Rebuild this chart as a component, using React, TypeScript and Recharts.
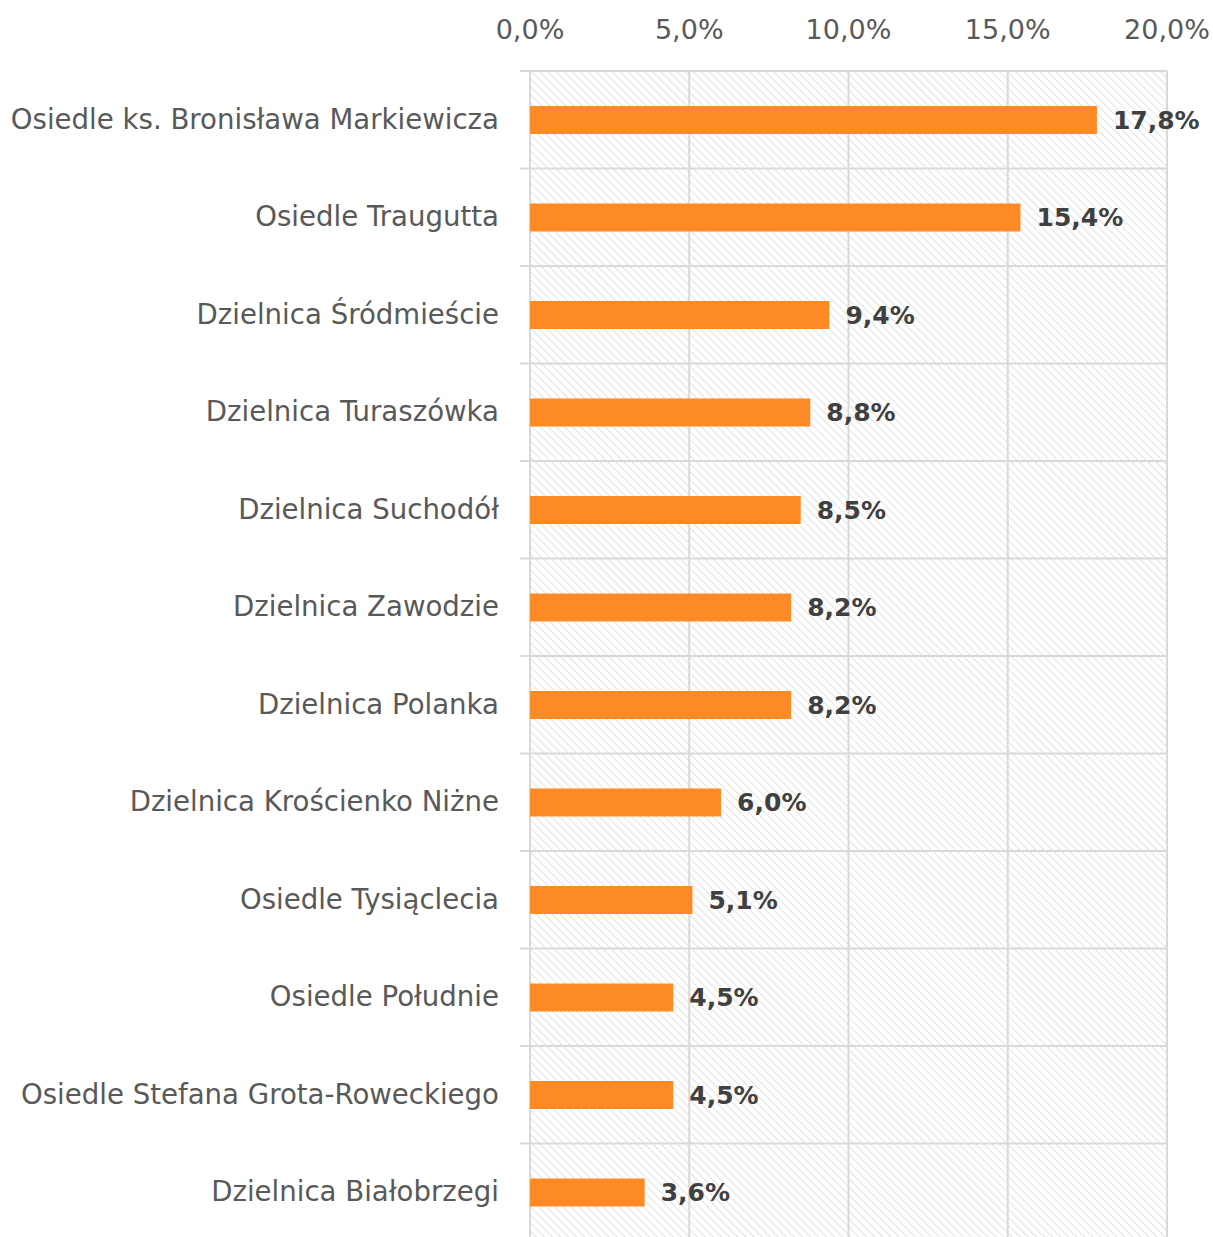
import { BarChart, Bar, XAxis, YAxis, CartesianGrid, LabelList } from 'recharts'

const districts = [
  'Osiedle ks. Bronisława Markiewicza',
  'Osiedle Traugutta',
  'Dzielnica Śródmieście',
  'Dzielnica Turaszówka',
  'Dzielnica Suchodół',
  'Dzielnica Zawodzie',
  'Dzielnica Polanka',
  'Dzielnica Krościenko Niżne',
  'Osiedle Tysiąclecia',
  'Osiedle Południe',
  'Osiedle Stefana Grota-Roweckiego',
  'Dzielnica Białobrzegi',
]

const shares = [17.8, 15.4, 9.4, 8.8, 8.5, 8.2, 8.2, 6.0, 5.1, 4.5, 4.5, 3.6]

const xTicks = [0, 5, 10, 15, 20]

const data = districts.map((name, i) => ({ name, value: shares[i] }))

const FONT = '"DejaVu Sans", "Liberation Sans", sans-serif'
const GRID = '#d9d9d9'

const pct = (v: number) => v.toFixed(1).replace('.', ',') + '%'

// plot area: top 71, height 1170 -> 97.5 px per category
const BAND = 1170 / districts.length

function CategoryTick(props: any) {
  const { x, y, payload } = props
  const axisX = x + 31
  return (
    <g>
      <line x1={axisX - 10} x2={axisX} y1={y - BAND / 2} y2={y - BAND / 2} stroke={GRID} strokeWidth={2} />
      <text x={x} y={y} dy={9} textAnchor="end" fill="#595959" fontSize={27.6} fontFamily={FONT}>
        {payload.value}
      </text>
    </g>
  )
}

export default function App() {
  return (
    <div style={{ position: 'absolute', left: 0, top: 0 }}>
      <BarChart
        width={1213}
        height={1245}
        data={data}
        layout="vertical"
        margin={{ top: 0, right: 46, bottom: 4, left: 0 }}
        barSize={28}
      >
        <defs>
          <pattern id="hatch" patternUnits="userSpaceOnUse" width={5.7} height={5.7} patternTransform="rotate(-45)">
            <line x1={0} y1={0} x2={0} y2={5.7} stroke="#dcdcdc" strokeWidth={1.6} />
          </pattern>
        </defs>
        <CartesianGrid
          stroke={GRID}
          strokeWidth={2}
          fill="url(#hatch)"
          fillOpacity={1}
          horizontalCoordinatesGenerator={({ offset }: any) =>
            Array.from({ length: districts.length }, (_, i) => offset.top + i * (offset.height / districts.length))
          }
        />
        <XAxis
          type="number"
          orientation="top"
          domain={[0, 20]}
          ticks={xTicks}
          height={71}
          axisLine={false}
          tickLine={false}
          tickSize={0}
          tickMargin={32}
          tickFormatter={pct}
          tick={{ fill: '#595959', fontSize: 27, fontFamily: FONT }}
        />
        <YAxis
          type="category"
          dataKey="name"
          width={530}
          axisLine={false}
          tickLine={false}
          tickSize={0}
          tickMargin={31}
          tick={<CategoryTick />}
          interval={0}
        />
        <Bar dataKey="value" fill="#fd8a25" isAnimationActive={false}>
          <LabelList
            dataKey="value"
            position="right"
            offset={16}
            formatter={(v: any) => pct(Number(v))}
            fill="#404040"
            fontSize={25}
            fontWeight="bold"
            fontFamily={FONT}
          />
        </Bar>
      </BarChart>
    </div>
  )
}
